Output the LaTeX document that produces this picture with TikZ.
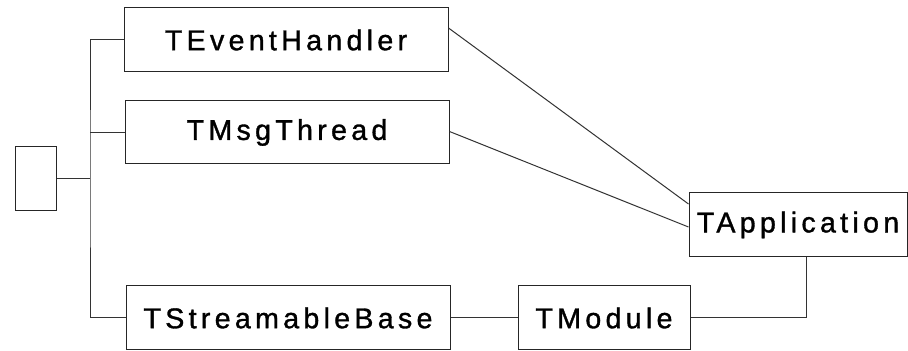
\documentclass[tikz,border=0pt]{standalone}
\usepackage{fontspec}
\setmainfont{Liberation Sans}[LetterSpace=15, FakeBold=1.2]
\usepackage{tikz}
\usetikzlibrary{calc}

\tikzset{
    classbox/.style={draw=black!85, line width=0.5pt, inner sep=0pt, minimum height=32pt,
        font=\fontsize{14.3pt}{16pt}\selectfont},
    link/.style={draw=black!80, line width=0.5pt}
}

\begin{document}
\begin{tikzpicture}[x=0.5pt, y=-0.5pt]
                \useasboundingbox (0,0) rectangle (908,351);

                %root
                \node[classbox, minimum width=20.5pt] (root) at (35.5,179) {};
                \coordinate (bus) at (90,179);

                %classes
                \node[classbox, minimum width=162pt] (evh) at (286,40) {TEventHandler};
                \node[classbox, minimum width=162pt, minimum height=31.5pt] (msg) at (287,132.5) {TMsgThread};
                \node[classbox, minimum width=162pt] (sb) at (288,318) {TStreamableBase};
                \node[classbox, minimum width=86pt] (mod) at (604,318) {TModule};
                \node[classbox, minimum width=109pt] (app) at (798,225) {TApplication};

                %tree
                \draw[link] (root) -- (bus);
                \draw[link] (evh.west) -| (bus) |- (sb.west);
                \draw[link] (msg.west) -- (msg.west -| bus);

                %to TApplication
                \draw[link] ([yshift=6pt]evh.east) -- ([yshift=10.5pt]app.west);
                \draw[link] ([yshift=0.5pt]msg.east) -- ([yshift=-1pt]app.west);
                \draw[link] (sb) -- (mod);
                \draw[link] (mod.east) -| ([xshift=4pt]app.south);

            \end{tikzpicture}
\end{document}
